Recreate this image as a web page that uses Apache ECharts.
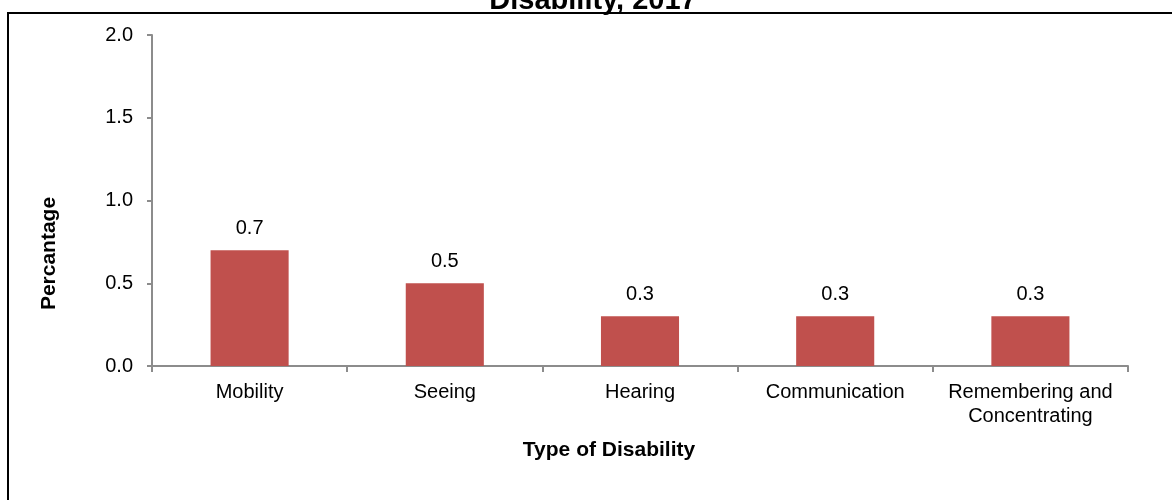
<!DOCTYPE html>
<html>
<head>
<meta charset="utf-8">
<script src="https://cdn.jsdelivr.net/npm/echarts@6/dist/echarts.min.js"></script>
<style>
  html, body { margin: 0; padding: 0; background: #fff; }
  #chart { width: 1172px; height: 500px; }
</style>
</head>
<body>
<div id="chart"></div>
<script>
const categories = ['Mobility', 'Seeing', 'Hearing', 'Communication', 'Remembering and\nConcentrating'];
const values = [0.7, 0.5, 0.3, 0.3, 0.3];
const yTicks = [0, 0.5, 1.0, 1.5, 2.0];
const titleText = 'Disability, 2017';
const xAxisName = 'Type of Disability';
const yAxisName = 'Percantage';

const FONT = '"Liberation Sans", Arial, sans-serif';
const chart = echarts.init(document.getElementById('chart'), null, { renderer: 'canvas' });

chart.setOption({
  animation: false,
  backgroundColor: '#ffffff',
  graphic: [
    {
      type: 'rect',
      shape: { x: 8, y: 13, width: 1200, height: 600 },
      style: { fill: 'none', stroke: '#000000', lineWidth: 2 },
      silent: true
    },
    {
      type: 'text',
      style: {
        text: titleText,
        x: 593, y: 15,
        textAlign: 'center',
        textVerticalAlign: 'bottom',
        font: 'bold 29px ' + FONT,
        fill: '#000000'
      },
      silent: true
    }
  ],
  grid: { left: 152, right: 44, top: 35, bottom: 134, containLabel: false },
  xAxis: {
    type: 'category',
    data: categories,
    name: xAxisName,
    nameLocation: 'middle',
    nameGap: 74,
    nameTextStyle: { fontFamily: FONT, fontSize: 21, fontWeight: 'bold', color: '#000', padding: [0, 62, 0, 0] },
    axisLine: { lineStyle: { color: '#8c8c8c', width: 2 } },
    axisTick: { show: true, alignWithLabel: false, length: 6, lineStyle: { color: '#8c8c8c', width: 2 } },
    axisLabel: { fontFamily: FONT, fontSize: 20, color: '#000', margin: 14, lineHeight: 24, interval: 0 }
  },
  yAxis: {
    type: 'value',
    min: yTicks[0],
    max: yTicks[yTicks.length - 1],
    interval: yTicks[1] - yTicks[0],
    name: yAxisName,
    nameLocation: 'middle',
    nameGap: 92,
    nameRotate: 90,
    nameTextStyle: { fontFamily: FONT, fontSize: 21, fontWeight: 'bold', color: '#000', padding: [0, 106, 0, 0] },
    axisLine: { show: true, lineStyle: { color: '#8c8c8c', width: 2 } },
    axisTick: { show: true, length: 5, lineStyle: { color: '#8c8c8c', width: 2 } },
    splitLine: { show: false },
    axisLabel: {
      fontFamily: FONT, fontSize: 20, color: '#000', margin: 19,
      formatter: v => v.toFixed(1)
    }
  },
  series: [{
    type: 'bar',
    data: values,
    barWidth: '40%',
    itemStyle: { color: '#C0504D' },
    label: {
      show: true,
      position: 'top',
      distance: 12,
      fontFamily: FONT,
      fontSize: 20,
      color: '#000',
      formatter: p => p.value.toFixed(1)
    }
  }]
});
</script>
</body>
</html>
